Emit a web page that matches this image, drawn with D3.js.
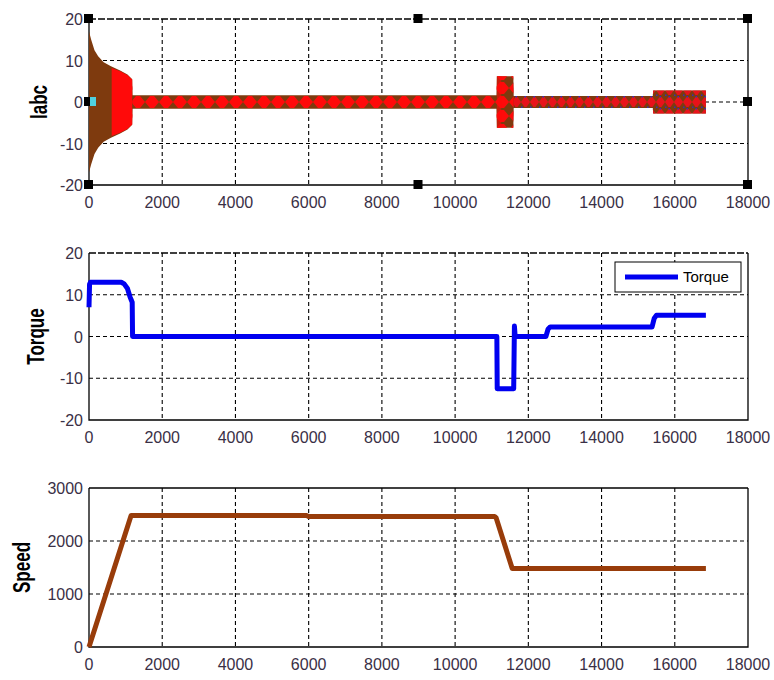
<!DOCTYPE html>
<html lang="en">

<head>
  <meta charset="UTF-8" />
  <title>Iabc / Torque / Speed</title>
  <style>
    body {
      margin: 0;
      background: #fff;
    }

    .grid-line {
      fill: none;
      stroke: #000;
      stroke-width: 1.1px;
      stroke-dasharray: 4, 3;
    }

    .frame {
      fill: none;
      stroke: #000;
      stroke-width: 1.3px;
    }

    .tick-text {
      font-family: "Liberation Sans", Arial, sans-serif;
      font-size: 16px;
      fill: #3a3046;
    }

    .y-title {
      font-family: "Liberation Sans", Arial, sans-serif;
      font-size: 23px;
      font-weight: bold;
      fill: #000;
    }

    .torque-line {
      fill: none;
      stroke: #0000f0;
      stroke-width: 5px;
      stroke-linejoin: round;
    }

    .speed-line {
      fill: none;
      stroke: #983c0a;
      stroke-width: 5px;
      stroke-linejoin: round;
    }

    .legend-box {
      fill: #fff;
      stroke: #000;
      stroke-width: 1px;
    }

    .legend-text {
      font-family: "Liberation Sans", Arial, sans-serif;
      font-size: 15px;
      fill: #000;
    }

    .handle {
      fill: #000;
    }
  </style>
</head>

<body>
  <script src="https://cdn.jsdelivr.net/npm/d3@7/dist/d3.min.js"></script>
  <script>
    // values
    var xTicks = [0, 2000, 4000, 6000, 8000, 10000, 12000, 14000, 16000, 18000];
    var iabcTicks = [-20, -10, 0, 10, 20];
    var torqueTicks = [-20, -10, 0, 10, 20];
    var speedTicks = [0, 1000, 2000, 3000];

    // Iabc envelope (peak amplitude of the three phases)
    var iabcTime = [0, 60, 150, 250, 400, 600, 850, 1050, 1180, 1190, 11130, 11140, 11590, 11600, 15400, 15410, 16850];
    var iabcAmp = [17, 15, 12.5, 11, 9.6, 8.6, 7.6, 6.6, 5.5, 1.65, 1.65, 6.2, 6.2, 1.45, 1.45, 2.8, 2.8];
    // part of the start-up where phase a (red) covers the band
    var iabcRedTime = [620, 850, 1050, 1180];
    var iabcRedAmp = [8.2, 7.4, 6.5, 5.4];

    var torqueTime = [0, 15, 40, 880, 960, 1050, 1120, 1180, 1190, 11140, 11150, 11600, 11620, 11640, 12480, 12540, 12600, 15380, 15440, 15500, 16850];
    var torqueVal = [7, 12.5, 13, 13, 12.6, 11.5, 9.5, 8.2, 0, 0, -12.5, -12.5, 2.5, 0, 0, 1.8, 2.3, 2.3, 4.4, 5.1, 5.1];

    var speedTime = [0, 1150, 5950, 6000, 11080, 11120, 11560, 16850];
    var speedVal = [0, 2480, 2480, 2460, 2460, 2440, 1480, 1480];

    var w = 774;
    var h = 680;
    var left = 89, right = 748;

    var panels = [
      { top: 19, bottom: 185, domain: [-20, 20], ticks: iabcTicks, title: "Iabc", titleX: 47, dashedTop: true },
      { top: 253, bottom: 420, domain: [-20, 20], ticks: torqueTicks, title: "Torque", titleX: 44, dashedTop: true },
      { top: 488, bottom: 647, domain: [0, 3000], ticks: speedTicks, title: "Speed", titleX: 30, dashedTop: false }
    ];

    var svg = d3.select("body")
      .append("svg")
      .attr("width", w)
      .attr("height", h);

    var defs = svg.append("defs");

    var xScale = d3.scaleLinear()
      .domain([0, 18000])
      .range([left, right]);

    panels.forEach(function(p) {
      p.y = d3.scaleLinear().domain(p.domain).range([p.bottom, p.top]);
    });

    // grids and frames
    panels.forEach(function(p) {
      var g = svg.append("g");

      g.selectAll(".vgrid")
        .data(xTicks.slice(1, -1))
        .enter()
        .append("line")
        .attr("class", "grid-line")
        .attr("x1", function(d) { return xScale(d); })
        .attr("x2", function(d) { return xScale(d); })
        .attr("y1", p.top)
        .attr("y2", p.bottom);

      g.selectAll(".hgrid")
        .data(p.ticks.slice(1, -1))
        .enter()
        .append("line")
        .attr("class", "grid-line")
        .attr("x1", left)
        .attr("x2", right)
        .attr("y1", function(d) { return p.y(d); })
        .attr("y2", function(d) { return p.y(d); });

      g.append("path")
        .attr("class", "frame")
        .attr("d", "M" + right + "," + p.top + "V" + p.bottom + "H" + left + "V" + p.top);

      g.append("line")
        .attr("class", "frame")
        .attr("x1", left)
        .attr("x2", right)
        .attr("y1", p.top)
        .attr("y2", p.top)
        .style("stroke-dasharray", p.dashedTop ? "7,2" : null)
        .style("stroke-width", p.dashedTop ? "1.6px" : null);

      g.selectAll(".xt")
        .data(xTicks)
        .enter()
        .append("text")
        .attr("class", "tick-text")
        .attr("x", function(d) { return xScale(d); })
        .attr("y", p.bottom + 23)
        .attr("text-anchor", "middle")
        .text(function(d) { return d; });

      g.selectAll(".yt")
        .data(p.ticks)
        .enter()
        .append("text")
        .attr("class", "tick-text")
        .attr("x", left - 6)
        .attr("y", function(d) { return p.y(d) + 6; })
        .attr("text-anchor", "end")
        .text(function(d) { return d; });

      g.append("text")
        .attr("class", "y-title")
        .attr("text-anchor", "middle")
        .attr("transform", "translate(" + p.titleX + "," + ((p.top + p.bottom) / 2) + ") rotate(-90) scale(0.74,1)")
        .text(p.title);
    });

    // ---- Iabc panel ----
    var p1 = panels[0];
    var iabcData = iabcTime.map(function(t, i) { return { t: t, a: iabcAmp[i] }; });
    var iabcRed = iabcRedTime.map(function(t, i) { return { t: t, a: iabcRedAmp[i] }; });

    var band = d3.area()
      .x(function(d) { return xScale(d.t); })
      .y0(function(d) { return p1.y(-d.a); })
      .y1(function(d) { return p1.y(d.a); });

    var zeroY = p1.y(0);

    // red zigzag on brown for the steady running part
    var pat = defs.append("pattern")
      .attr("id", "diamonds")
      .attr("patternUnits", "userSpaceOnUse")
      .attr("width", 14)
      .attr("height", 14)
      .attr("patternTransform", "translate(" + left + "," + (zeroY - 7) + ")");
    pat.append("path")
      .attr("d", "M0,7L5,1L9,1L14,7L9,13L5,13Z")
      .attr("fill", "#ff0a0a");

    var pat2 = defs.append("pattern")
      .attr("id", "mesh")
      .attr("patternUnits", "userSpaceOnUse")
      .attr("width", 9)
      .attr("height", 12)
      .attr("patternTransform", "translate(" + left + "," + (zeroY - 6) + ")");
    pat2.append("path")
      .attr("d", "M0,6L3.5,1L5.5,1L9,6L5.5,11L3.5,11Z")
      .attr("fill", "#e8121a");
    pat2.append("rect")
      .attr("x", 3.5).attr("y", 0).attr("width", 1.5).attr("height", 1.5)
      .attr("fill", "#3030c0");
    pat2.append("rect")
      .attr("x", 0).attr("y", 10.5).attr("width", 1.5).attr("height", 1.5)
      .attr("fill", "#3030c0");

    defs.append("clipPath").attr("id", "clipSteady")
      .append("rect")
      .attr("x", xScale(1180)).attr("y", p1.top)
      .attr("width", xScale(11600) - xScale(1180)).attr("height", p1.bottom - p1.top);

    defs.append("clipPath").attr("id", "clipLate")
      .append("rect")
      .attr("x", xScale(11600)).attr("y", p1.top)
      .attr("width", xScale(17000) - xScale(11600)).attr("height", p1.bottom - p1.top);

    var ig = svg.append("g");

    ig.append("path")
      .datum(iabcData)
      .attr("d", band)
      .attr("fill", "#7e3a0e");

    ig.append("path")
      .datum(iabcData)
      .attr("d", band)
      .attr("clip-path", "url(#clipSteady)")
      .attr("fill", "url(#diamonds)");

    ig.append("path")
      .datum(iabcData)
      .attr("d", band)
      .attr("clip-path", "url(#clipLate)")
      .attr("fill", "url(#mesh)");

    ig.append("path")
      .datum(iabcRed)
      .attr("d", band)
      .attr("fill", "#ff0a0a");

    // red streak at the start of the load step
    ig.append("rect")
      .attr("x", xScale(11140))
      .attr("y", p1.y(6.2))
      .attr("width", xScale(11260) - xScale(11140))
      .attr("height", p1.y(-6.2) - p1.y(6.2))
      .attr("fill", "#ff0a0a")
      .attr("opacity", 0.55);

    // figure edit handles
    var hx = [left, (left + right) / 2, right];
    var hy = [p1.top, (p1.top + p1.bottom) / 2, p1.bottom];
    var handles = [];
    hx.forEach(function(x, i) {
      hy.forEach(function(y, j) {
        if (i == 1 && j == 1) return;
        handles.push([x, y]);
      });
    });
    svg.selectAll(".handle")
      .data(handles)
      .enter()
      .append("rect")
      .attr("class", "handle")
      .attr("x", function(d) { return d[0] - 5; })
      .attr("y", function(d) { return d[1] - 5; })
      .attr("width", 9)
      .attr("height", 9);

    svg.append("rect")
      .attr("x", left + 1)
      .attr("y", zeroY - 5)
      .attr("width", 6)
      .attr("height", 9)
      .attr("fill", "#4fd0e0");

    // ---- Torque panel ----
    var p2 = panels[1];
    var torqueData = torqueTime.map(function(t, i) { return { t: t, v: torqueVal[i] }; });

    svg.append("path")
      .datum(torqueData)
      .attr("class", "torque-line")
      .attr("d", d3.line()
        .x(function(d) { return xScale(d.t); })
        .y(function(d) { return p2.y(d.v); }));

    var lg = svg.append("g");
    lg.append("rect")
      .attr("class", "legend-box")
      .attr("x", 615)
      .attr("y", 262)
      .attr("width", 126)
      .attr("height", 30);
    lg.append("line")
      .attr("x1", 625)
      .attr("x2", 678)
      .attr("y1", 277)
      .attr("y2", 277)
      .attr("stroke", "#0000f0")
      .attr("stroke-width", 5);
    lg.append("text")
      .attr("class", "legend-text")
      .attr("x", 683)
      .attr("y", 282)
      .text("Torque");

    // ---- Speed panel ----
    var p3 = panels[2];
    var speedData = speedTime.map(function(t, i) { return { t: t, v: speedVal[i] }; });

    svg.append("path")
      .datum(speedData)
      .attr("class", "speed-line")
      .attr("d", d3.line()
        .x(function(d) { return xScale(d.t); })
        .y(function(d) { return p3.y(d.v); }));
  </script>
</body>

</html>
